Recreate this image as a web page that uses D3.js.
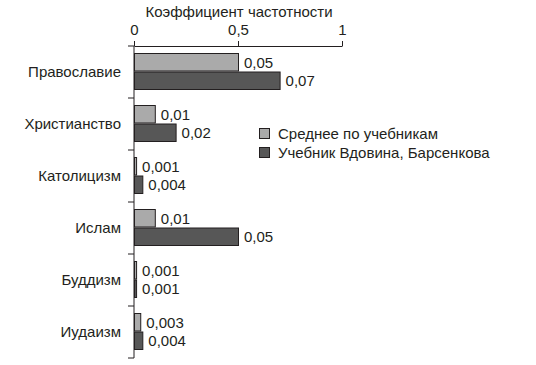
<!DOCTYPE html>
<html>
<head>
<meta charset="utf-8">
<script src="https://cdn.jsdelivr.net/npm/d3@7"></script>
<style>
  body { margin: 0; background: #fff; }
  text { font-family: "Liberation Sans", Arial, sans-serif; fill: #231f20; }
</style>
</head>
<body>
<div id="content"></div>
<script>
const width = 536;
const height = 365;

// categories and series
const categories = ["Православие", "Христианство", "Католицизм", "Ислам", "Буддизм", "Иудаизм"];
const series = ["Среднее по учебникам", "Учебник Вдовина, Барсенкова"];
// bar lengths as drawn against the 0..1 axis
const avgValues = [0.5, 0.1, 0.01, 0.1, 0.01, 0.03];
const vdovinValues = [0.7, 0.2, 0.04, 0.5, 0.01, 0.04];
// labels printed next to bars
const avgLabels = ["0,05", "0,01", "0,001", "0,01", "0,001", "0,003"];
const vdovinLabels = ["0,07", "0,02", "0,004", "0,05", "0,001", "0,004"];
const xTicks = [0, 0.5, 1];
const xTickLabels = ["0", "0,5", "1"];

const colors = ["#aaaaaa", "#575757"];
const strokeColor = "#231f20";
const fontSize = 15;

var svg = d3.select("#content").append("svg")
    .attr("width", width)
    .attr("height", height);

var x = d3.scaleLinear().domain([0, 1]).range([134, 342]);
var y = d3.scaleBand().domain(categories).range([46, 358]).padding(0);
var ySub = d3.scaleBand().domain(series).range([7, 44]).padding(0);

// top axis
var xAxis = svg.append("g")
    .attr("transform", "translate(0,46)")
    .call(d3.axisTop(x).tickValues(xTicks).tickSize(5).tickSizeOuter(0)
        .tickFormat((d, i) => xTickLabels[i]));
xAxis.select(".domain").attr("stroke", strokeColor);
xAxis.selectAll(".tick line").attr("stroke", strokeColor);
xAxis.selectAll(".tick text")
    .attr("font-size", fontSize)
    .attr("font-family", "Liberation Sans, Arial, sans-serif")
    .attr("fill", "#231f20")
    .attr("y", -11);

svg.append("text")
    .attr("x", 239)
    .attr("y", 17)
    .attr("text-anchor", "middle")
    .attr("font-size", fontSize)
    .text("Коэффициент частотности");

// left axis with separators between categories
svg.append("line")
    .attr("x1", x(0)).attr("x2", x(0))
    .attr("y1", y.range()[0]).attr("y2", y.range()[1])
    .attr("stroke", strokeColor);

var seps = categories.map(c => y(c)).concat([y.range()[1]]);
svg.selectAll(".sep").data(seps).join("line")
    .attr("class", "sep")
    .attr("x1", x(0) - 6).attr("x2", x(0))
    .attr("y1", d => d).attr("y2", d => d)
    .attr("stroke", strokeColor);

svg.selectAll(".cat").data(categories).join("text")
    .attr("class", "cat")
    .attr("x", 121)
    .attr("y", d => y(d) + y.bandwidth() / 2)
    .attr("dy", "0.35em")
    .attr("text-anchor", "end")
    .attr("font-size", fontSize)
    .text(d => d);

// bars
var rows = [];
categories.forEach((c, i) => {
    rows.push({cat: c, s: series[0], v: avgValues[i], label: avgLabels[i], k: 0});
    rows.push({cat: c, s: series[1], v: vdovinValues[i], label: vdovinLabels[i], k: 1});
});

svg.selectAll(".bar").data(rows).join("rect")
    .attr("class", "bar")
    .attr("x", x(0) + 0.5)
    .attr("y", d => y(d.cat) + ySub(d.s) + 0.5)
    .attr("width", d => Math.max(x(d.v) - x(0), 2))
    .attr("height", ySub.bandwidth() - 1)
    .attr("fill", d => colors[d.k])
    .attr("stroke", strokeColor)
    .attr("stroke-width", 1);

svg.selectAll(".val").data(rows).join("text")
    .attr("class", "val")
    .attr("x", d => x(0) + Math.max(x(d.v) - x(0), 2) + 6)
    .attr("y", d => y(d.cat) + ySub(d.s) + ySub.bandwidth() / 2)
    .attr("dy", "0.35em")
    .attr("font-size", fontSize)
    .text(d => d.label);

// legend
var legend = svg.selectAll(".leg").data(series).join("g")
    .attr("class", "leg")
    .attr("transform", (d, i) => `translate(259, ${128 + i * 19})`);

legend.append("rect")
    .attr("x", 0.5).attr("y", 0.5)
    .attr("width", 10).attr("height", 10)
    .attr("fill", (d, i) => colors[i])
    .attr("stroke", strokeColor);

legend.append("text")
    .attr("x", 19)
    .attr("y", 6)
    .attr("dy", "0.35em")
    .attr("font-size", fontSize)
    .text(d => d);
</script>
</body>
</html>
